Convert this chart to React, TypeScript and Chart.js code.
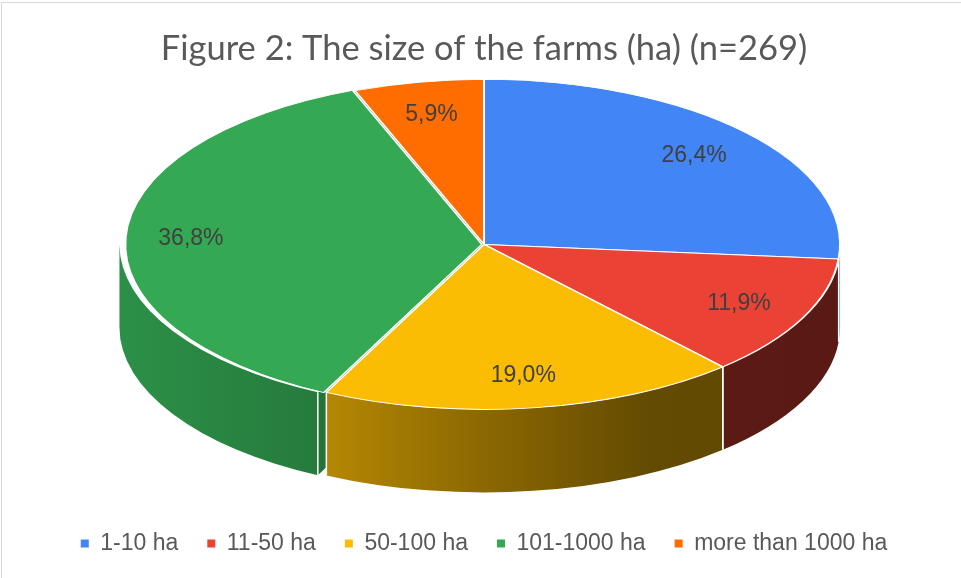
import React, { useEffect, useRef } from 'react';
import { Chart, registerables } from 'chart.js';

Chart.register(...registerables);

const TITLE = 'Figure 2: The size of the farms (ha) (n=269)';
const categories = ['1-10 ha', '11-50 ha', '50-100 ha', '101-1000 ha', 'more than 1000 ha'];
const shares = [26.4, 11.9, 19.0, 36.8, 5.9];
const sliceColors = ['#4285F4', '#EA4335', '#FBBC04', '#34A853', '#FF6D01'];
const explode = [0, 0, 0, 5, 0];

// 3D look constants (style, not data)
const WIDTH_FRACTION = 0.774; // ellipse horizontal radius relative to half chart-area width
const RY_RATIO = 165 / 356;
const DEPTH_RATIO = 83 / 356;
const LABEL_K = 0.8;
const SHADE_STOPS: [number, number][] = [
  [0, 0.85],
  [0.25, 0.74],
  [0.49, 0.56],
  [0.73, 0.4],
  [1, 0.38],
];

function hexToRgb(hex: string) {
  const h = hex.replace('#', '');
  return [parseInt(h.slice(0, 2), 16), parseInt(h.slice(2, 4), 16), parseInt(h.slice(4, 6), 16)];
}
function shade(hex: string, f: number) {
  const [r, g, b] = hexToRgb(hex);
  return `rgb(${Math.round(r * f)},${Math.round(g * f)},${Math.round(b * f)})`;
}

function geom(chart: any) {
  const a = chart.chartArea;
  const cx = (a.left + a.right) / 2;
  const rx = ((a.right - a.left) / 2) * WIDTH_FRACTION;
  const ry = rx * RY_RATIO;
  const depth = rx * DEPTH_RATIO;
  const cy = a.top + ry;
  return { cx, cy, rx, ry, depth };
}

function arcInfo(chart: any, arc: any, g: any) {
  const R = arc.outerRadius;
  const mid = (arc.startAngle + arc.endAngle) / 2;
  const off = arc.options.offset || 0;
  const ox = Math.cos(mid) * off * (g.rx / R);
  const oy = Math.sin(mid) * off * (g.ry / R);
  return { R, mid, ox, oy };
}

const pie3dPlugin = {
  id: 'pie3d',
  beforeDatasetsDraw(chart: any) {
    const ctx = chart.ctx;
    const g = geom(chart);
    const meta = chart.getDatasetMeta(0);
    const arcs = meta.data;
    if (!arcs.length) return;

    // radial faces (visible through exploded gaps)
    arcs.forEach((arc: any, i: number) => {
      const { ox, oy } = arcInfo(chart, arc, g);
      const color = sliceColors[i];
      const edges = [
        { a: arc.startAngle, n: arc.startAngle - Math.PI / 2 },
        { a: arc.endAngle, n: arc.endAngle + Math.PI / 2 },
      ];
      edges.forEach(({ a, n }) => {
        if (Math.sin(n) <= 0.01) return;
        const x0 = g.cx + ox;
        const y0 = g.cy + oy;
        const x1 = x0 + g.rx * Math.cos(a);
        const y1 = y0 + g.ry * Math.sin(a);
        ctx.save();
        ctx.beginPath();
        ctx.moveTo(x0, y0);
        ctx.lineTo(x1, y1);
        ctx.lineTo(x1, y1 + g.depth);
        ctx.lineTo(x0, y0 + g.depth);
        ctx.closePath();
        ctx.fillStyle = shade(color, 0.33 + 0.4 * Math.max(0, Math.cos(n)));
        ctx.fill();
        ctx.restore();
      });
    });

    // outer walls (front half)
    arcs.forEach((arc: any, i: number) => {
      const { ox, oy } = arcInfo(chart, arc, g);
      const a1 = Math.max(arc.startAngle, 0);
      const a2 = Math.min(arc.endAngle, Math.PI);
      if (a2 <= a1) return;
      const color = sliceColors[i];
      const x = g.cx + ox;
      const y = g.cy + oy;
      ctx.save();
      ctx.beginPath();
      ctx.ellipse(x, y, g.rx, g.ry, 0, a1, a2, false);
      ctx.ellipse(x, y + g.depth, g.rx, g.ry, 0, a2, a1, true);
      ctx.closePath();
      const grad = ctx.createLinearGradient(g.cx - g.rx, 0, g.cx + g.rx, 0);
      SHADE_STOPS.forEach(([t, f]) => grad.addColorStop(t, shade(color, f)));
      ctx.fillStyle = grad;
      ctx.fill();
      ctx.strokeStyle = '#ffffff';
      ctx.lineWidth = 1.5;
      [a1, a2].forEach((a) => {
        if (a <= 0.001 || a >= Math.PI - 0.001) return;
        const px = x + g.rx * Math.cos(a);
        const py = y + g.ry * Math.sin(a);
        ctx.beginPath();
        ctx.moveTo(px, py);
        ctx.lineTo(px, py + g.depth);
        ctx.stroke();
      });
      ctx.restore();
    });

    // flatten the library-drawn pie into the top ellipse
    const first = arcs[0];
    const R = first.outerRadius;
    ctx.save();
    ctx.translate(g.cx, g.cy);
    ctx.scale(g.rx / R, g.ry / R);
    ctx.translate(-first.x, -first.y);
  },
  afterDatasetsDraw(chart: any) {
    const ctx = chart.ctx;
    ctx.restore();
    const g = geom(chart);
    const meta = chart.getDatasetMeta(0);
    ctx.save();
    ctx.font = '23px "Liberation Sans", Arial, sans-serif';
    ctx.fillStyle = '#404040';
    ctx.textAlign = 'center';
    ctx.textBaseline = 'middle';
    meta.data.forEach((arc: any, i: number) => {
      const { mid, ox, oy } = arcInfo(chart, arc, g);
      const x = g.cx + ox + LABEL_K * g.rx * Math.cos(mid);
      const y = g.cy + oy + LABEL_K * g.ry * Math.sin(mid);
      const txt = shares[i].toFixed(1).replace('.', ',') + '%';
      ctx.fillText(txt, x, y);
    });
    ctx.restore();
  },
};

export default function App() {
  const ref = useRef<HTMLCanvasElement | null>(null);
  useEffect(() => {
    if (!ref.current) return;
    const chart = new Chart(ref.current, {
      type: 'pie',
      data: {
        labels: categories,
        datasets: [
          {
            data: shares,
            backgroundColor: sliceColors,
            borderColor: '#ffffff',
            borderWidth: 1.2,
            offset: explode,
            clip: false,
          } as any,
        ],
      },
      options: {
        responsive: false,
        animation: false,
        devicePixelRatio: 1,
        events: [],
        layout: { padding: { top: 0, bottom: 13, left: 24, right: 17 } },
        plugins: {
          tooltip: { enabled: false },
          title: {
            display: true,
            text: TITLE,
            color: '#595959',
            font: { family: 'Lato, "Liberation Sans", sans-serif', size: 34.5, weight: 'normal' },
            padding: { top: 28, bottom: 10 },
          },
          legend: {
            position: 'bottom',
            labels: {
              boxWidth: 8,
              boxHeight: 8,
              padding: 29,
              color: '#595959',
              font: { family: '"Liberation Sans", Arial, sans-serif', size: 23 },
              generateLabels: (ch: any) =>
                ch.data.labels.map((l: string, i: number) => ({
                  text: l,
                  fillStyle: sliceColors[i],
                  strokeStyle: sliceColors[i],
                  lineWidth: 0,
                  hidden: false,
                  index: i,
                  fontColor: '#595959',
                })),
            },
          },
        },
      } as any,
      plugins: [pie3dPlugin],
    });
    return () => chart.destroy();
  }, []);

  return (
    <div
      style={{
        position: 'fixed',
        left: 0,
        top: 0,
        width: 961,
        height: 578,
        overflow: 'hidden',
        background: '#ffffff',
      }}
    >
      <div
        style={{
          position: 'absolute',
          left: 1,
          top: 2,
          width: 1200,
          height: 800,
          border: '1px solid #d9d9d9',
          boxSizing: 'border-box',
        }}
      />
      <canvas
        ref={ref}
        width={961}
        height={578}
        style={{ position: 'absolute', left: 0, top: 0, width: 961, height: 578 }}
      />
    </div>
  );
}
